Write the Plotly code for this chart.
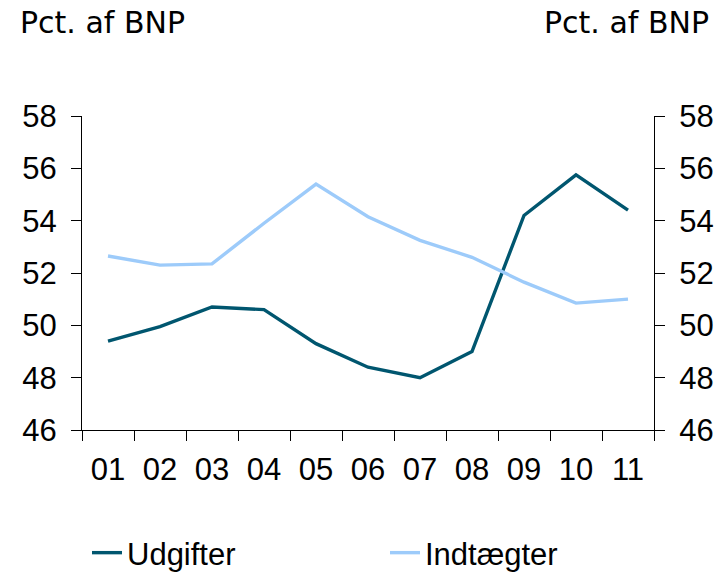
import plotly.graph_objects as go

years = ["01", "02", "03", "04", "05", "06", "07", "08", "09", "10", "11"]
udgifter = [49.4, 49.95, 50.7, 50.6, 49.3, 48.4, 48.0, 49.0, 54.2, 55.75, 54.4]
indtaegter = [52.65, 52.3, 52.35, 53.9, 55.4, 54.15, 53.25, 52.6, 51.65, 50.85, 51.0]

FONT = "Liberation Sans Narrow, Liberation Sans, Arial Narrow, sans-serif"
DARK = "#00566F"
LIGHT = "#9DCBFA"

fig = go.Figure()
fig.add_trace(go.Scatter(x=years, y=udgifter, name="Udgifter", mode="lines",
                         line=dict(color=DARK, width=3.4), legend="legend"))
fig.add_trace(go.Scatter(x=years, y=indtaegter, name="Indtægter", mode="lines",
                         line=dict(color=LIGHT, width=3.4), legend="legend2"))
# invisible trace so the right axis gets drawn
fig.add_trace(go.Scatter(x=years, y=udgifter, yaxis="y2", mode="lines",
                         line=dict(color="rgba(0,0,0,0)"), showlegend=False,
                         hoverinfo="skip"))

yax = dict(range=[46, 58], dtick=2, ticks="outside", ticklen=10, tickwidth=1,
           tickcolor="black", showline=True, linecolor="black", linewidth=1,
           showgrid=False, zeroline=False, automargin=False,
           ticklabelstandoff=8,
           tickfont=dict(family=FONT, size=31, color="black"))

leg = dict(orientation="h", xref="container", yref="container",
           y=(572 - 553) / 572, xanchor="left", yanchor="middle",
           font=dict(family=FONT, size=31, color="black"))

fig.update_layout(
    width=725, height=572,
    margin=dict(l=82, r=71, t=116, b=142),
    plot_bgcolor="white", paper_bgcolor="white",
    font=dict(family=FONT, color="black"),
    xaxis=dict(type="category", range=[-0.5, len(years) - 0.5],
               tickson="boundaries", ticks="outside",
               ticklen=10, tickwidth=1, tickcolor="black", showline=True,
               linecolor="black", linewidth=1, showgrid=False,
               automargin=False, ticklabelstandoff=12,
               tickfont=dict(family=FONT, size=31, color="black")),
    yaxis=dict(side="left", **yax),
    yaxis2=dict(side="right", overlaying="y", **yax),
    legend=dict(x=87 / 725, **leg),
    legend2=dict(x=385 / 725, **leg),
    annotations=[
        dict(text="Pct. af BNP", xref="paper", yref="paper",
             x=(18 - 82) / 572, y=(116 - 22) / 314 + 1,
             xanchor="left", yanchor="middle", showarrow=False,
             font=dict(family="DejaVu Sans", size=30, color="black")),
        dict(text="Pct. af BNP", xref="paper", yref="paper",
             x=(711 - 82) / 572, y=(116 - 22) / 314 + 1,
             xanchor="right", yanchor="middle", showarrow=False,
             font=dict(family="DejaVu Sans", size=30, color="black")),
    ],
)

fig.write_html("out.html", config={"displayModeBar": False},
               post_script="document.body.style.margin='0';")
